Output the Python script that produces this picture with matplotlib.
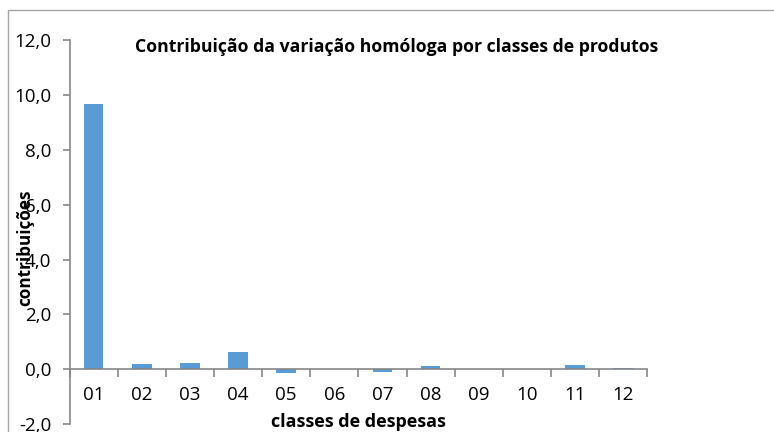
import matplotlib
matplotlib.use("Agg")
import matplotlib.pyplot as plt
from matplotlib.patches import Rectangle
from matplotlib.ticker import FuncFormatter
import numpy as np

# Chart data
classes = ['01', '02', '03', '04', '05', '06', '07', '08', '09', '10', '11', '12']
contribuicoes = [9.67, 0.19, 0.22, 0.62, -0.12, 0.0, -0.08, 0.12, 0.0, 0.0, 0.16, 0.04]
y_ticks = [-2.0, 0.0, 2.0, 4.0, 6.0, 8.0, 10.0, 12.0]

title = 'Contribuição da variação homóloga por classes de produtos'
x_title = 'classes de despesas'
y_title = 'contribuições'

bar_color = '#5B9BD5'
axis_color = '#868686'

plt.rcParams['font.family'] = ['Open Sans', 'DejaVu Sans']

W, H = 774, 432
fig = plt.figure(figsize=(W / 100, H / 100), dpi=100)

# Chart area border (light gray frame)
fig.patches.append(Rectangle((8 / W, -0.1), 1.2, 1 - 10 / H + 0.1, transform=fig.transFigure,
                             fill=False, edgecolor='#A6A6A6', linewidth=1.0))

ax = fig.add_axes([69.5 / W, 1 - 424.2 / H, 577.8 / W, (424.2 - 40) / H])

x = np.arange(len(classes))
ax.bar(x, contribuicoes, width=0.41, color=bar_color, zorder=2)

ax.set_xlim(-0.5, len(classes) - 0.5)
ax.set_ylim(y_ticks[0], y_ticks[-1])

# spines
for side in ['top', 'right']:
    ax.spines[side].set_visible(False)
ax.spines['left'].set_color(axis_color)
ax.spines['bottom'].set_color(axis_color)
ax.spines['left'].set_linewidth(1.2)
ax.spines['bottom'].set_linewidth(1.2)
ax.spines['bottom'].set_position(('data', 0))
ax.spines['bottom'].set_zorder(3)

# y axis
ax.set_yticks(y_ticks)
ax.yaxis.set_major_formatter(FuncFormatter(lambda v, p: f'{v:.1f}'.replace('.', ',')))
ax.tick_params(axis='y', direction='out', length=5, width=1.2, color=axis_color,
               labelsize=13.5, pad=8)

# x axis: ticks on category boundaries, labels at centers
ax.set_xticks(np.arange(len(classes) + 1) - 0.5)
ax.set_xticklabels([])
ax.set_xticks(x, minor=True)
ax.set_xticklabels(classes, minor=True)
ax.tick_params(axis='x', which='major', direction='out', length=6, width=1.2, color=axis_color)
ax.tick_params(axis='x', which='minor', length=0, labelsize=13.5, pad=12)

# titles
fig.text(397 / W, 1 - 47 / H, title, ha='center', va='center', fontsize=12.7, fontweight='bold')
fig.text(358 / W, 1 - 422 / H, x_title, ha='center', va='center', fontsize=13, fontweight='bold')
fig.text(25 / W, 1 - 248 / H, y_title, ha='center', va='center', rotation=90,
         fontsize=12.3, fontweight='bold')

plt.savefig('out.png', dpi=100)
